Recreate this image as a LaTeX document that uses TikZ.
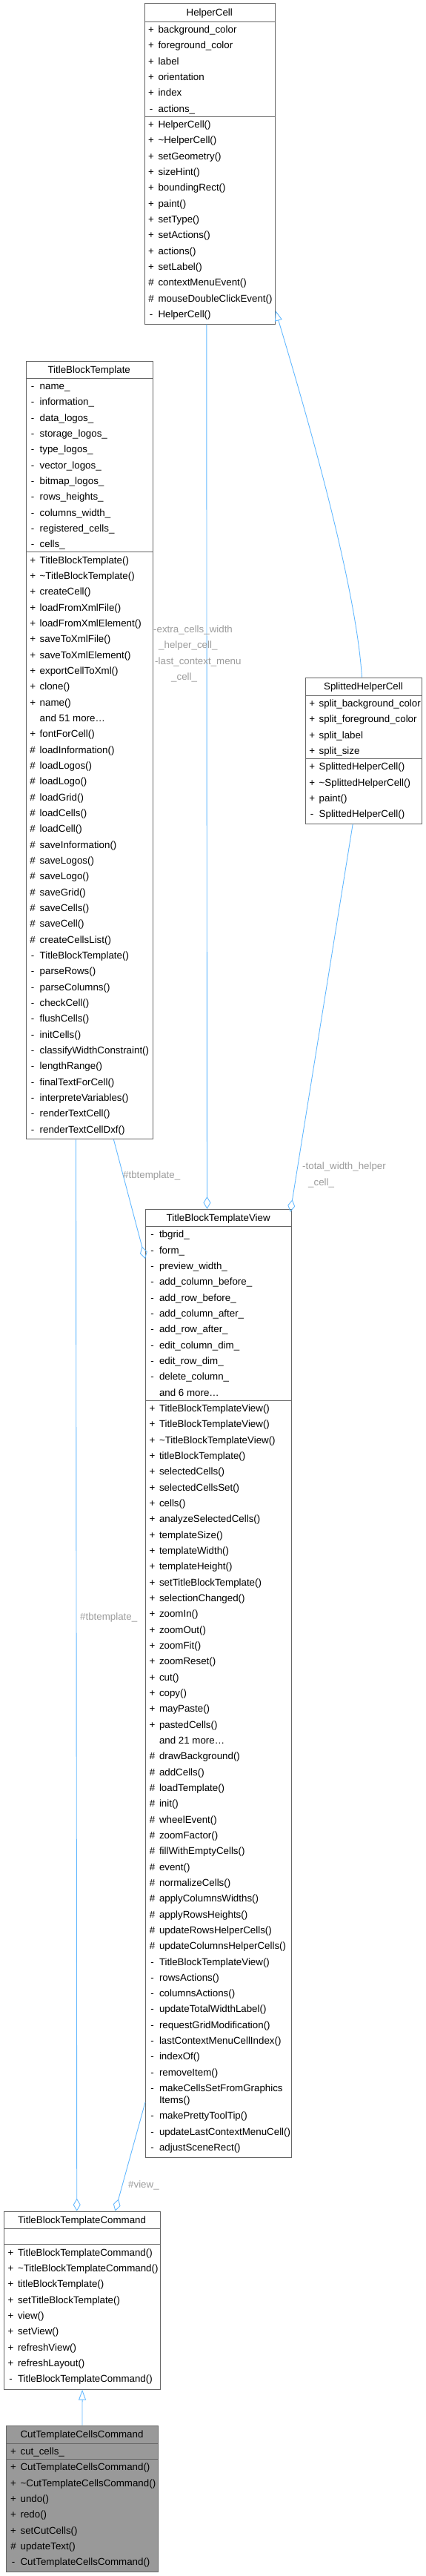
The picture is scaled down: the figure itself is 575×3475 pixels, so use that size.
\documentclass[tikz,border=0pt]{standalone}
\usepackage{fontspec}
\setmainfont{Liberation Sans}
\usetikzlibrary{arrows.meta}
\definecolor{edgeblue}{HTML}{63B8FF}
\definecolor{boxgray}{HTML}{666666}
\definecolor{lblgray}{HTML}{9C9C9C}
\definecolor{cutgray}{HTML}{999999}

\begin{document}
\begin{tikzpicture}[x=1pt, y=-1pt,
  cls/.style={draw=boxgray, fill=white, line width=0.9pt, inner sep=0pt, anchor=north west},
  sep/.style={draw=boxgray, line width=0.9pt},
  ttl/.style={font=\fontsize{13.33pt}{16pt}\selectfont, text height=9.5pt, text depth=0pt, inner sep=0pt},
  sym/.style={ttl},
  txt/.style={ttl, anchor=west},
  rel/.style={draw=edgeblue, line width=0.9pt},
  agg/.style={rel, -{Diamond[open, length=17pt, width=10pt]}},
  gen/.style={rel, -{Triangle[open, length=14pt, width=10pt]}},
  lbl/.style={ttl, anchor=west, text=lblgray}]
\useasboundingbox (0,0) rectangle (575,3475);
\node[cls, minimum width=176.5pt, minimum height=432.4pt] (hc) at (194.5,4.3) {};
\node[ttl] (hc-t) at (282.75,16.7) {HelperCell};
\draw[sep] (194.5,29) -- (371,29);
\draw[sep] (194.5,157) -- (371,157);
\foreach \s/\t [count=\i] in {+/background\_color, +/foreground\_color, +/label, +/orientation, +/index, -/actions\_}
{
  \node[sym] (hc-as\i) at (204,{29+(\i-0.5)*21.33}) {\s};
  \node[txt] (hc-a\i) at (213.3,{29+(\i-0.5)*21.33}) {\t};
}
\foreach \s/\t [count=\i] in {+/HelperCell(), +/\textasciitilde HelperCell(), +/setGeometry(), +/sizeHint(), +/boundingRect(), +/paint(), +/setType(), +/setActions(), +/actions(), +/setLabel(), \#/contextMenuEvent(), \#/mouseDoubleClickEvent(), -/HelperCell()}
{
  \node[sym] (hc-ms\i) at (204,{157+(\i-0.5)*21.33}) {\s};
  \node[txt] (hc-m\i) at (213.3,{157+(\i-0.5)*21.33}) {\t};
}
\node[cls, minimum width=157.6pt, minimum height=197.5pt] (shc) at (411.7,913.5) {};
\node[ttl] (shc-t) at (490.5,925.7) {SplittedHelperCell};
\draw[sep] (411.7,938) -- (569.3,938);
\draw[sep] (411.7,1023.3) -- (569.3,1023.3);
\foreach \s/\t [count=\i] in {+/split\_background\_color, +/split\_foreground\_color, +/split\_label, +/split\_size}
{
  \node[sym] (shc-as\i) at (421.2,{938+(\i-0.5)*21.33}) {\s};
  \node[txt] (shc-a\i) at (430.5,{938+(\i-0.5)*21.33}) {\t};
}
\foreach \s/\t [count=\i] in {+/SplittedHelperCell(), +/\textasciitilde SplittedHelperCell(), +/paint(), -/SplittedHelperCell()}
{
  \node[sym] (shc-ms\i) at (421.2,{1023.3+(\i-0.5)*21.33}) {\s};
  \node[txt] (shc-m\i) at (430.5,{1023.3+(\i-0.5)*21.33}) {\t};
}
\node[cls, minimum width=171pt, minimum height=1049.7pt] (tbt) at (34.7,486.7) {};
\node[ttl] (tbt-t) at (120.2,498.4) {TitleBlockTemplate};
\draw[sep] (34.7,510) -- (205.7,510);
\draw[sep] (34.7,744.7) -- (205.7,744.7);
\foreach \s/\t [count=\i] in {-/name\_, -/information\_, -/data\_logos\_, -/storage\_logos\_, -/type\_logos\_, -/vector\_logos\_, -/bitmap\_logos\_, -/rows\_heights\_, -/columns\_width\_, -/registered\_cells\_, -/cells\_}
{
  \node[sym] (tbt-as\i) at (44.2,{510+(\i-0.5)*21.33}) {\s};
  \node[txt] (tbt-a\i) at (53.5,{510+(\i-0.5)*21.33}) {\t};
}
\foreach \s/\t [count=\i] in {+/TitleBlockTemplate(), +/\textasciitilde TitleBlockTemplate(), +/createCell(), +/loadFromXmlFile(), +/loadFromXmlElement(), +/saveToXmlFile(), +/saveToXmlElement(), +/exportCellToXml(), +/clone(), +/name(), {}/and 51 more\ldots, +/fontForCell(), \#/loadInformation(), \#/loadLogos(), \#/loadLogo(), \#/loadGrid(), \#/loadCells(), \#/loadCell(), \#/saveInformation(), \#/saveLogos(), \#/saveLogo(), \#/saveGrid(), \#/saveCells(), \#/saveCell(), \#/createCellsList(), -/TitleBlockTemplate(), -/parseRows(), -/parseColumns(), -/checkCell(), -/flushCells(), -/initCells(), -/classifyWidthConstraint(), -/lengthRange(), -/finalTextForCell(), -/interpreteVariables(), -/renderTextCell(), -/renderTextCellDxf()}
{
  \node[sym] (tbt-ms\i) at (44.2,{744.7+(\i-0.5)*21.33}) {\s};
  \node[txt] (tbt-m\i) at (53.5,{744.7+(\i-0.5)*21.33}) {\t};
}
\node[cls, minimum width=197.3pt, minimum height=1279pt] (tbtv) at (196,1631) {};
\node[ttl] (tbtv-t) at (294.65,1642.7) {TitleBlockTemplateView};
\draw[sep] (196,1654.3) -- (393.3,1654.3);
\draw[sep] (196,1889) -- (393.3,1889);
\foreach \s/\t [count=\i] in {-/tbgrid\_, -/form\_, -/preview\_width\_, -/add\_column\_before\_, -/add\_row\_before\_, -/add\_column\_after\_, -/add\_row\_after\_, -/edit\_column\_dim\_, -/edit\_row\_dim\_, -/delete\_column\_, {}/and 6 more\ldots}
{
  \node[sym] (tbtv-as\i) at (205.5,{1654.3+(\i-0.5)*21.33}) {\s};
  \node[txt] (tbtv-a\i) at (214.8,{1654.3+(\i-0.5)*21.33}) {\t};
}
\foreach \s/\t [count=\i] in {+/TitleBlockTemplateView(), +/TitleBlockTemplateView(), +/\textasciitilde TitleBlockTemplateView(), +/titleBlockTemplate(), +/selectedCells(), +/selectedCellsSet(), +/cells(), +/analyzeSelectedCells(), +/templateSize(), +/templateWidth(), +/templateHeight(), +/setTitleBlockTemplate(), +/selectionChanged(), +/zoomIn(), +/zoomOut(), +/zoomFit(), +/zoomReset(), +/cut(), +/copy(), +/mayPaste(), +/pastedCells(), {}/and 21 more\ldots, \#/drawBackground(), \#/addCells(), \#/loadTemplate(), \#/init(), \#/wheelEvent(), \#/zoomFactor(), \#/fillWithEmptyCells(), \#/event(), \#/normalizeCells(), \#/applyColumnsWidths(), \#/applyRowsHeights(), \#/updateRowsHelperCells(), \#/updateColumnsHelperCells(), -/TitleBlockTemplateView(), -/rowsActions(), -/columnsActions(), -/updateTotalWidthLabel(), -/requestGridModification(), -/lastContextMenuCellIndex(), -/indexOf(), -/removeItem()}
{
  \node[sym] (tbtv-ms\i) at (205.5,{1889+(\i-0.5)*21.33}) {\s};
  \node[txt] (tbtv-m\i) at (214.8,{1889+(\i-0.5)*21.33}) {\t};
}
\node[sym] (tbtv-ms44) at (205.5,2816.9) {-};
\node[txt] (tbtv-m44) at (214.8,2816.9) {makeCellsSetFromGraphics};
\node[txt] (tbtv-m44b) at (214.8,2832.6) {Items()};
\foreach \s/\t [count=\i] in {-/makePrettyToolTip(), -/updateLastContextMenuCell(), -/adjustSceneRect()}
{
  \node[sym] (tbtv-mt\i) at (205.5,{1905+(43.5+\i)*21.33}) {\s};
  \node[txt] (tbtv-mu\i) at (214.8,{1905+(43.5+\i)*21.33}) {\t};
}
\node[cls, minimum width=211.3pt, minimum height=240pt] (tbtc) at (5,2982.7) {};
\node[ttl] (tbtc-t) at (110.65,2994.5) {TitleBlockTemplateCommand};
\draw[sep] (5,3006.3) -- (216.3,3006.3);
\draw[sep] (5,3027.7) -- (216.3,3027.7);
\foreach \s/\t [count=\i] in {+/TitleBlockTemplateCommand(), +/\textasciitilde TitleBlockTemplateCommand(), +/titleBlockTemplate(), +/setTitleBlockTemplate(), +/view(), +/setView(), +/refreshView(), +/refreshLayout(), -/TitleBlockTemplateCommand()}
{
  \node[sym] (tbtc-ms\i) at (14.5,{3027.7+(\i-0.5)*21.33}) {\s};
  \node[txt] (tbtc-m\i) at (23.8,{3027.7+(\i-0.5)*21.33}) {\t};
}
\node[cls, fill=cutgray, minimum width=204.4pt, minimum height=197.6pt] (ctcc) at (8.3,3271.7) {};
\node[ttl] (ctcc-t) at (110.5,3283.9) {CutTemplateCellsCommand};
\draw[sep] (8.3,3296) -- (212.7,3296);
\draw[sep] (8.3,3317.3) -- (212.7,3317.3);
\node[sym] (ctcc-as1) at (18.1,3306.7) {+};
\node[txt] (ctcc-a1) at (27.4,3306.7) {cut\_cells\_};
\foreach \s/\t [count=\i] in {+/CutTemplateCellsCommand(), +/\textasciitilde CutTemplateCellsCommand(), +/undo(), +/redo(), +/setCutCells(), \#/updateText(), -/CutTemplateCellsCommand()}
{
  \node[sym] (ctcc-ms\i) at (18.1,{3317.3+(\i-0.5)*21.33}) {\s};
  \node[txt] (ctcc-m\i) at (27.4,{3317.3+(\i-0.5)*21.33}) {\t};
}
\draw[gen] ([xshift=-2.5pt]shc.north) .. controls (480,780) and (405,530) .. ([yshift=18.7pt]hc.south east);
\draw[agg] ([xshift=-4.4pt]hc.south) -- ([xshift=-15.6pt]tbtv.north);
\draw[agg] ([xshift=32.8pt]tbt.south) -- ([yshift=-67pt]tbtv.north west);
\draw[agg] ([xshift=-18.2pt]tbt.south) -- ([xshift=-7.35pt]tbtc.north);
\draw[agg] ([yshift=75pt]tbtv.south west) -- ([xshift=44.35pt]tbtc.north);
\draw[agg] ([xshift=-14.8pt]shc.south) -- ([xshift=-2.3pt,yshift=-4pt]tbtv.north east);
\draw[gen] (ctcc.north) -- (tbtc.south);
\node[lbl] (l-extra1) at (207,848.5) {-extra\_cells\_width};
\node[lbl] (l-extra2) at (214,870) {\_helper\_cell\_};
\node[lbl] (l-extra3) at (209,891.5) {-last\_context\_menu};
\node[lbl] (l-extra4) at (231,913) {\_cell\_};
\node[lbl] (l-total1) at (408,1573) {-total\_width\_helper};
\node[lbl] (l-total2) at (416,1595) {\_cell\_};
\node[lbl] (l-tbt1) at (166,1585) {\#tbtemplate\_};
\node[lbl] (l-tbt2) at (108,2181) {\#tbtemplate\_};
\node[lbl] (l-view) at (173,2947) {\#view\_};
\end{tikzpicture}
\end{document}
